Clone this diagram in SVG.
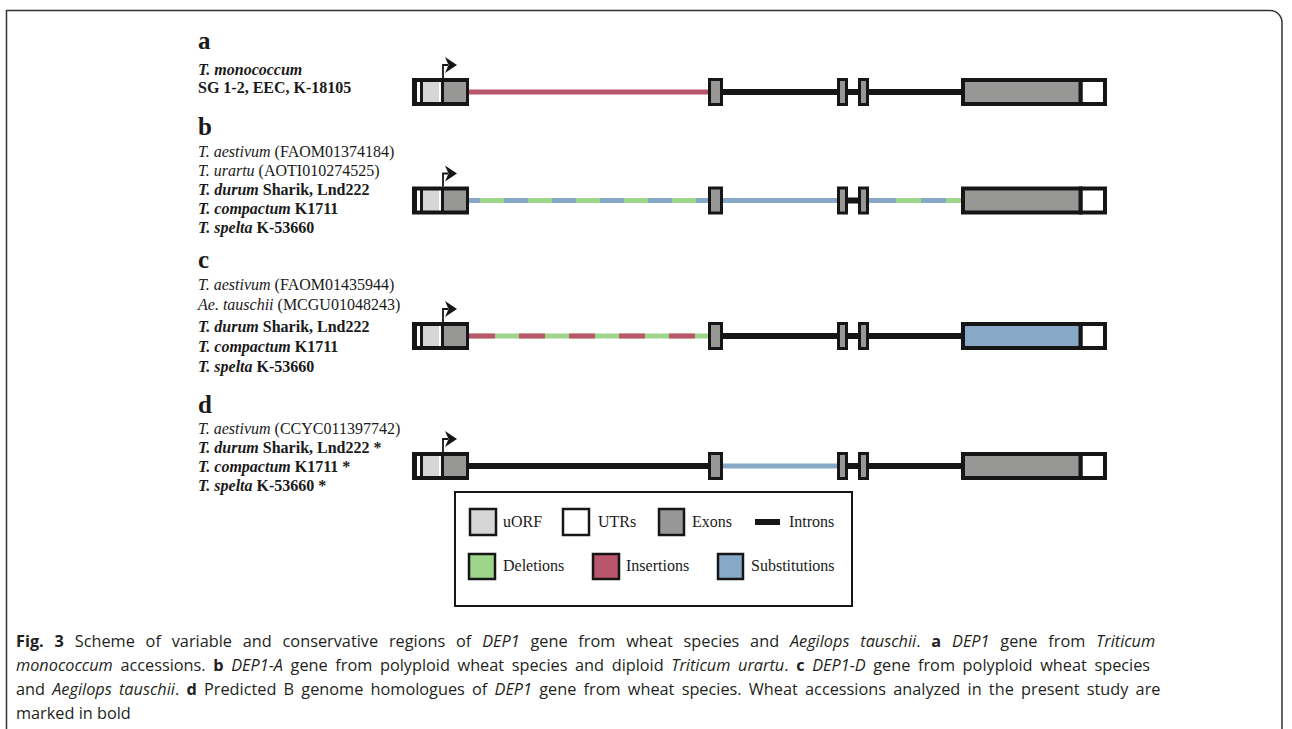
<svg xmlns="http://www.w3.org/2000/svg" width="1292" height="729" viewBox="0 0 1292 729">
<defs>
<style>
.lbl{font-family:"Liberation Serif","Times New Roman",serif;font-size:16px;fill:#1a1a1a}
.hd{font-family:"Liberation Serif","Times New Roman",serif;font-size:25px;font-weight:bold;fill:#1a1a1a}
.b{font-weight:bold}
.i{font-style:italic}
.cap{font-family:"Open Sans","Liberation Sans",sans-serif;font-size:16.3px;fill:#231f20}
.ex{fill:#979896;stroke:#161616;stroke-width:3}
.bigex{fill:#979896;stroke:#161616;stroke-width:4}
.utr{fill:#ffffff;stroke:#161616;stroke-width:4}
.intr{stroke:#161616;stroke-width:6;fill:none}
.ins{stroke:#b9566b;stroke-width:5;fill:none}
.del{stroke:#9dd68a;stroke-width:5;fill:none}
.sub{stroke:#88a8c7;stroke-width:5;fill:none}
.sw{stroke:#161616;stroke-width:2.5}
</style>
<g id="head">
<rect x="412" y="-14" width="57" height="28" fill="#161616"/>
<rect x="417" y="-10" width="3" height="20" fill="#ffffff"/>
<rect x="423" y="-10" width="16" height="20" fill="#d6d6d6"/>
<rect x="439" y="-10" width="2" height="20" fill="#ffffff"/>
<rect x="444" y="-10" width="22" height="20" fill="#979896"/>
<path d="M443,-14 V-27 H448" stroke="#161616" stroke-width="1.8" fill="none"/>
<path d="M445,-35 L457,-27 L445,-19 L448.5,-27 Z" fill="#161616"/>
</g>
<g id="tail">
<rect x="709.5" y="-12.5" width="12" height="25" class="ex"/>
<rect x="838.5" y="-12.5" width="8" height="25" class="ex"/>
<rect x="859.5" y="-12.5" width="8" height="25" class="ex"/>
<rect x="1080.5" y="-12" width="24.5" height="24" class="utr"/>
</g>
</defs>
<rect width="1292" height="729" fill="#ffffff"/>
<path d="M6.5,729 V10.5 H1270 A12,12 0 0 1 1282,22.5 V729" fill="none" stroke="#333" stroke-width="1.5"/>

<g id="labels-a">
<text x="198" y="49" class="hd">a</text>
<text x="198" y="75" class="lbl b i">T. monococcum</text>
<text x="198" y="93" class="lbl b">SG 1-2, EEC, K-18105</text>
</g>
<g id="labels-b">
<text x="198" y="135" class="hd">b</text>
<text x="198" y="157" class="lbl"><tspan class="i">T. aestivum</tspan> (FAOM01374184)</text>
<text x="198" y="176" class="lbl"><tspan class="i">T. urartu</tspan> (AOTI010274525)</text>
<text x="198" y="195" class="lbl b"><tspan class="i">T. durum</tspan> Sharik, Lnd222</text>
<text x="198" y="214" class="lbl b"><tspan class="i">T. compactum</tspan> K1711</text>
<text x="198" y="233" class="lbl b"><tspan class="i">T. spelta</tspan> K-53660</text>
</g>
<g id="labels-c">
<text x="198" y="268" class="hd">c</text>
<text x="198" y="290" class="lbl"><tspan class="i">T. aestivum</tspan> (FAOM01435944)</text>
<text x="198" y="310" class="lbl"><tspan class="i">Ae. tauschii</tspan> (MCGU01048243)</text>
<text x="198" y="332" class="lbl b"><tspan class="i">T. durum</tspan> Sharik, Lnd222</text>
<text x="198" y="352" class="lbl b"><tspan class="i">T. compactum</tspan> K1711</text>
<text x="198" y="372" class="lbl b"><tspan class="i">T. spelta</tspan> K-53660</text>
</g>
<g id="labels-d">
<text x="198" y="413" class="hd">d</text>
<text x="198" y="434" class="lbl"><tspan class="i">T. aestivum</tspan> (CCYC011397742)</text>
<text x="198" y="453" class="lbl b"><tspan class="i">T. durum</tspan> Sharik, Lnd222 *</text>
<text x="198" y="472" class="lbl b"><tspan class="i">T. compactum</tspan> K1711 *</text>
<text x="198" y="491" class="lbl b"><tspan class="i">T. spelta</tspan> K-53660 *</text>
</g>

<g id="connectors">
<g transform="translate(0,92)">
<line x1="469" y1="0" x2="709" y2="0" class="ins"/>
<line x1="722" y1="0" x2="962" y2="0" class="intr"/>
</g>
<g transform="translate(0,200.5)">
<line x1="469" y1="0" x2="709" y2="0" class="sub"/>
<line x1="480" y1="0" x2="697" y2="0" class="del" stroke-dasharray="24 24"/>
<line x1="722" y1="0" x2="839" y2="0" class="sub"/>
<line x1="846" y1="0" x2="860" y2="0" class="intr"/>
<line x1="867" y1="0" x2="962" y2="0" class="sub"/>
<line x1="896" y1="0" x2="962" y2="0" class="del" stroke-dasharray="25 25"/>
</g>
<g transform="translate(0,336)">
<line x1="469" y1="0" x2="709" y2="0" class="del"/>
<line x1="469" y1="0" x2="696" y2="0" class="ins" stroke-dasharray="26 24"/>
<line x1="722" y1="0" x2="962" y2="0" class="intr"/>
</g>
<g transform="translate(0,466)">
<line x1="469" y1="0" x2="709" y2="0" class="intr"/>
<line x1="722" y1="0" x2="839" y2="0" class="sub"/>
<line x1="846" y1="0" x2="962" y2="0" class="intr"/>
</g>
</g>

<g id="gene-a" transform="translate(0,92)">
<use href="#head"/>
<use href="#tail"/>
<rect x="963" y="-12" width="117.5" height="24" class="bigex"/>
</g>
<g id="gene-b" transform="translate(0,200.5)">
<use href="#head"/>
<use href="#tail"/>
<rect x="963" y="-12" width="117.5" height="24" class="bigex"/>
</g>
<g id="gene-c" transform="translate(0,336)">
<use href="#head"/>
<use href="#tail"/>
<rect x="963" y="-12" width="117.5" height="24" class="bigex" style="fill:#88a8c7"/>
</g>
<g id="gene-d" transform="translate(0,466)">
<use href="#head"/>
<use href="#tail"/>
<rect x="963" y="-12" width="117.5" height="24" class="bigex"/>
</g>

<g id="legend">
<rect x="455" y="492" width="397" height="114" fill="#ffffff" stroke="#161616" stroke-width="2"/>
<rect x="470" y="509" width="26" height="26" fill="#d6d6d6" class="sw"/>
<text x="503" y="527" class="lbl">uORF</text>
<rect x="563" y="509" width="26" height="26" fill="#ffffff" class="sw"/>
<text x="598" y="527" class="lbl">UTRs</text>
<rect x="659" y="509" width="25" height="26" fill="#979896" class="sw"/>
<text x="692" y="527" class="lbl">Exons</text>
<line x1="755" y1="522" x2="780" y2="522" stroke="#161616" stroke-width="6"/>
<text x="789" y="527" class="lbl">Introns</text>
<rect x="469" y="554" width="26" height="25" fill="#9dd68a" class="sw"/>
<text x="503" y="571" class="lbl">Deletions</text>
<rect x="593" y="554" width="26" height="25" fill="#b9566b" class="sw"/>
<text x="626" y="571" class="lbl">Insertions</text>
<rect x="718" y="554" width="25" height="25" fill="#88a8c7" class="sw"/>
<text x="751" y="571" class="lbl">Substitutions</text>
</g>

<g id="caption">
<text x="16" y="647" class="cap" word-spacing="6.6"><tspan class="b">Fig. 3</tspan> Scheme of variable and conservative regions of <tspan class="i">DEP1</tspan> gene from wheat species and <tspan class="i">Aegilops tauschii</tspan>. <tspan class="b">a</tspan> <tspan class="i">DEP1</tspan> gene from <tspan class="i">Triticum</tspan></text>
<text x="16" y="671" class="cap" word-spacing="3.4"><tspan class="i">monococcum</tspan> accessions. <tspan class="b">b</tspan> <tspan class="i">DEP1-A</tspan> gene from polyploid wheat species and diploid <tspan class="i">Triticum urartu</tspan>. <tspan class="b">c</tspan> <tspan class="i">DEP1-D</tspan> gene from polyploid wheat species</text>
<text x="16" y="695" class="cap" word-spacing="3.0">and <tspan class="i">Aegilops tauschii</tspan>. <tspan class="b">d</tspan> Predicted B genome homologues of <tspan class="i">DEP1</tspan> gene from wheat species. Wheat accessions analyzed in the present study are</text>
<text x="16" y="719" class="cap">marked in bold</text>
</g>
</svg>
